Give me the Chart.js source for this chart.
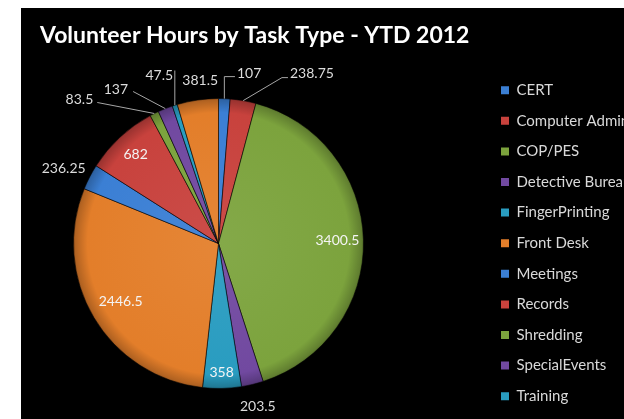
<!DOCTYPE html>
<html>
<head>
<meta charset="utf-8">
<script src="https://cdn.jsdelivr.net/npm/chart.js@4.4.1/dist/chart.umd.min.js"></script>
<style>
  html, body { margin: 0; padding: 0; background: #ffffff; overflow: hidden; width: 624px; height: 419px; }
  #c { position: absolute; left: 21px; top: 8px; background: #000000; }
</style>
</head>
<body>
<canvas id="c" width="603" height="501"></canvas>
<script>
// ---- data ----
const titleText = 'Volunteer Hours by Task Type - YTD 2012';
const categories = ['CERT', 'Computer Admin', 'COP/PES', 'Detective Bureau', 'FingerPrinting',
  'Front Desk', 'Meetings', 'Records', 'Shredding', 'SpecialEvents', 'Training', 'Vacation Checks'];
const hours = [107, 238.75, 3400.5, 203.5, 358, 2446.5, 236.25, 682, 83.5, 137, 47.5, 381.5];

// ---- styles ----
const palette = ['#3b7fd4', '#c8423d', '#7ca33d', '#7149a0', '#299cc0', '#e37e2a'];
const sliceColors = categories.map((_, i) => palette[i % palette.length]);

// label placement style per slice (inside at fraction of radius, or outside offset from slice edge)
const labelStyle = [
  {pos: 'out', dx: 12.6, dy: -25, align: 'left', leader: [[-12.6, 3], [-2, 3]]},
  {pos: 'out', dx: 46.8, dy: -27, align: 'left', leader: [[-8, 4], [-2, 4]]},
  {pos: 'in', k: 0.82},
  {pos: 'out', dx: 5.4, dy: 22, align: 'center'},
  {pos: 'in', k: 0.89},
  {pos: 'in', k: 0.785},
  {pos: 'out', dx: -4, dy: -8.7, align: 'right'},
  {pos: 'in', k: 0.84},
  {pos: 'out', dx: -61, dy: -14, align: 'right', leader: [[4, 3]]},
  {pos: 'out', dx: -37.2, dy: -19.1, align: 'right', leader: [[5, 2]]},
  {pos: 'out', dx: -1.7, dy: -29.7, align: 'right', leader: [[1.7, -5]]},
  {pos: 'out', dx: 2.5, dy: -19.5, align: 'center'}
];

function shade(hex, f) {
  const n = parseInt(hex.slice(1), 16);
  let r = (n >> 16) & 255, g = (n >> 8) & 255, b = n & 255;
  if (f >= 0) { r += (255 - r) * f; g += (255 - g) * f; b += (255 - b) * f; }
  else { r *= (1 + f); g *= (1 + f); b *= (1 + f); }
  return 'rgb(' + Math.round(r) + ',' + Math.round(g) + ',' + Math.round(b) + ')';
}

function sliceFill(ctx) {
  const base = sliceColors[ctx.dataIndex];
  const chart = ctx.chart;
  const area = chart.chartArea;
  if (!area) return base;
  const cx = (area.left + area.right) / 2, cy = (area.top + area.bottom) / 2;
  const r = Math.min(area.right - area.left, area.bottom - area.top) / 2;
  const g = chart.ctx.createRadialGradient(cx, cy, 0, cx, cy, r);
  g.addColorStop(0, shade(base, 0.06));
  g.addColorStop(0.9, base);
  g.addColorStop(0.985, shade(base, -0.22));
  g.addColorStop(1, shade(base, -0.35));
  return g;
}

// spacer layout boxes so the pie sits left while title/legend keep full size
const RIGHT_GAP = 88.4, BOTTOM_GAP = 120;
const spacerPlugin = {
  id: 'spacers',
  beforeInit(chart) {
    const mk = (position, size) => ({
      position, weight: 0, fullSize: false, options: {},
      top: 0, left: 0, right: 0, bottom: 0, width: 0, height: 0,
      isHorizontal() { return position === 'top' || position === 'bottom'; },
      update(maxWidth, maxHeight) {
        if (this.isHorizontal()) { this.width = maxWidth; this.height = size; }
        else { this.width = size; this.height = maxHeight; }
      },
      draw() {}
    });
    Chart.layouts.addBox(chart, mk('right', RIGHT_GAP));
    Chart.layouts.addBox(chart, mk('bottom', BOTTOM_GAP));
  }
};

const valueLabels = {
  id: 'valueLabels',
  afterDatasetsDraw(chart) {
    const c = chart.ctx;
    const meta = chart.getDatasetMeta(0);
    c.save();
    c.font = '14px Lato';
    c.textBaseline = 'middle';
    meta.data.forEach((arc, i) => {
      const p = arc.getProps(['x', 'y', 'startAngle', 'endAngle', 'outerRadius'], true);
      const mid = (p.startAngle + p.endAngle) / 2;
      const st = labelStyle[i];
      const text = String(hours[i]);
      if (st.pos === 'in') {
        const x = p.x + Math.cos(mid) * p.outerRadius * st.k;
        const y = p.y + Math.sin(mid) * p.outerRadius * st.k;
        c.fillStyle = '#f4f4f4';
        c.textAlign = 'center';
        c.fillText(text, x, y);
      } else {
        const ex = p.x + Math.cos(mid) * p.outerRadius;
        const ey = p.y + Math.sin(mid) * p.outerRadius;
        const ax = ex + st.dx, ay = ey + st.dy;
        if (st.leader) {
          c.strokeStyle = '#a6a6a6';
          c.lineWidth = 1;
          c.beginPath();
          c.moveTo(ex, ey);
          st.leader.forEach(pt => c.lineTo(ax + pt[0], ay + pt[1]));
          c.stroke();
        }
        c.fillStyle = '#dcdcdc';
        c.textAlign = st.align;
        c.fillText(text, ax, ay);
      }
    });
    c.restore();
  }
};

new Chart(document.getElementById('c'), {
  type: 'pie',
  data: {
    labels: categories,
    datasets: [{
      data: hours,
      backgroundColor: sliceFill,
      borderColor: 'rgba(0,0,0,0.55)',
      borderWidth: 1,
      hoverOffset: 0
    }]
  },
  options: {
    responsive: false,
    animation: false,
    events: [],
    layout: {padding: {left: 19, top: 0, right: 0, bottom: 0}},
    plugins: {
      title: {
        display: true,
        text: titleText,
        align: 'start',
        color: '#ffffff',
        font: {family: 'Lato', size: 23, weight: 'bold', lineHeight: 1.2},
        padding: {top: 14.2, bottom: 48.2}
      },
      legend: {
        display: true,
        position: 'right',
        align: 'center',
        maxWidth: 138.6,
        labels: {
          boxWidth: 8,
          boxHeight: 8,
          padding: 15.6,
          color: '#d9d9d9',
          font: {family: 'Lato', size: 15},
          generateLabels(chart) {
            return chart.data.labels.map((t, i) => ({
              text: t, fillStyle: sliceColors[i], strokeStyle: sliceColors[i],
              lineWidth: 0, fontColor: '#d9d9d9', hidden: false, index: i
            }));
          }
        }
      },
      tooltip: {enabled: false}
    }
  },
  plugins: [spacerPlugin, valueLabels]
});
</script>
</body>
</html>
